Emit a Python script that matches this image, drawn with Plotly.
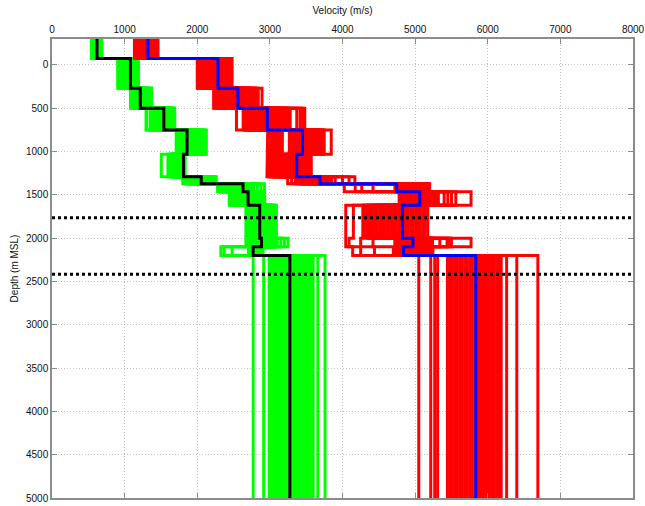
import plotly.graph_objects as go

# Layer tops (m MSL); the last layer runs down to MAX_DEPTH
LAYER_TOPS = [-300, -75, 270, 500, 750, 1030, 1290, 1370, 1465, 1620, 2000, 2100, 2200]
MAX_DEPTH = 5000

# Marker horizons (dotted lines)
MARKER_DEPTHS = [1765, 2415]

# Median profiles, one value per layer
VS_MEDIAN = [620, 1080, 1215, 1540, 1860, 1810, 2055, 2630, 2700, 2860, 2885, 2770, 3275]
VP_MEDIAN = [1320, 2285, 2560, 2965, 3450, 3370, 3690, 4745, 5065, 4825, 4970, 4840, 5835]

# Shear-wave velocity ensemble, one list per layer (profile i uses entry i)
VS_L0 = [542, 548, 555, 561, 567, 574, 580, 586, 591, 597, 603, 608, 613, 618, 623,
         628, 633, 638, 642, 647, 652, 656, 661, 665, 669, 673, 677, 680, 683, 686]
VS_L1 = [905, 913, 940, 954, 967, 979, 991, 1002, 1013, 1024, 1035, 1045, 1055, 1064, 1073,
         1082, 1091, 1100, 1108, 1116, 1124, 1132, 1140, 1148, 1156, 1163, 1170, 1177, 1184, 1190]
VS_L2 = [1080, 1093, 1106, 1118, 1130, 1141, 1152, 1162, 1172, 1181, 1190, 1199, 1207, 1215, 1223,
         1231, 1240, 1249, 1258, 1267, 1277, 1287, 1297, 1307, 1318, 1329, 1340, 1350, 1360, 1370]
VS_L3 = [1295, 1302, 1352, 1368, 1384, 1399, 1414, 1429, 1443, 1457, 1471, 1485, 1498, 1511, 1524,
         1537, 1549, 1561, 1573, 1585, 1597, 1609, 1620, 1631, 1642, 1653, 1663, 1672, 1681, 1690]
VS_L4 = [1710, 1725, 1740, 1755, 1770, 1784, 1798, 1812, 1826, 1840, 1853, 1866, 1879, 1892, 1905,
         1918, 1932, 1946, 1960, 1974, 1988, 2002, 2016, 2030, 2045, 2060, 2075, 2090, 2108, 2125]
VS_L5 = [1505, 1596, 1625, 1637, 1648, 1659, 1670, 1680, 1690, 1700, 1710, 1719, 1728, 1737, 1746,
         1754, 1762, 1770, 1777, 1784, 1791, 1797, 1803, 1808, 1813, 1817, 1821, 1825, 1828, 1832]
VS_L6 = [1800, 1818, 1836, 1853, 1869, 1885, 1901, 1917, 1932, 1947, 1962, 1977, 1992, 2007, 2022,
         2038, 2054, 2070, 2086, 2102, 2118, 2134, 2150, 2166, 2182, 2198, 2214, 2230, 2246, 2262]
VS_L7 = [2280, 2302, 2324, 2346, 2368, 2390, 2411, 2432, 2453, 2474, 2495, 2515, 2535, 2555, 2575,
         2594, 2613, 2632, 2650, 2668, 2686, 2703, 2720, 2736, 2751, 2765, 2779, 2828, 2878, 2925]
VS_L8 = [2440, 2462, 2484, 2506, 2528, 2549, 2569, 2589, 2609, 2628, 2647, 2665, 2683, 2701, 2719,
         2737, 2754, 2771, 2788, 2805, 2821, 2837, 2853, 2868, 2882, 2895, 2906, 2916, 2925, 2932]
VS_L9 = [2670, 2686, 2702, 2718, 2734, 2749, 2764, 2779, 2794, 2809, 2824, 2838, 2852, 2866, 2880,
         2894, 2908, 2922, 2936, 2950, 2964, 2978, 2992, 3006, 3020, 3034, 3048, 3061, 3075, 3090]
VS_L10 = [2670, 2688, 2706, 2724, 2742, 2760, 2777, 2794, 2811, 2828, 2845, 2861, 2877, 2893, 2909,
          2925, 2941, 2957, 2973, 2989, 3005, 3021, 3037, 3053, 3069, 3085, 3102, 3150, 3200, 3250]
VS_L11 = [2325, 2368, 2480, 2705, 2714, 2723, 2732, 2741, 2750, 2759, 2768, 2776, 2784, 2792, 2800,
          2808, 2816, 2824, 2832, 2840, 2848, 2856, 2864, 2871, 2878, 2885, 2891, 2896, 2901, 2905]
VS_L12 = [2770, 2915, 2990, 3014, 3038, 3062, 3086, 3110, 3134, 3158, 3182, 3206, 3230, 3254, 3278,
          3302, 3326, 3350, 3374, 3398, 3422, 3446, 3470, 3494, 3518, 3542, 3567, 3595, 3660, 3760]

# Compressional-wave velocity ensemble, one list per layer
VP_L0 = [1135, 1147, 1158, 1169, 1180, 1191, 1202, 1213, 1224, 1235, 1246, 1257, 1268, 1279, 1290,
         1300, 1310, 1320, 1331, 1342, 1353, 1364, 1375, 1386, 1397, 1408, 1420, 1432, 1446, 1460]
VP_L1 = [2000, 2018, 2036, 2054, 2071, 2088, 2105, 2122, 2138, 2154, 2170, 2186, 2202, 2218, 2234,
         2250, 2266, 2282, 2298, 2314, 2330, 2346, 2362, 2378, 2394, 2410, 2426, 2442, 2460, 2480]
VP_L2 = [2225, 2247, 2269, 2291, 2313, 2335, 2357, 2379, 2401, 2423, 2445, 2467, 2489, 2511, 2533,
         2555, 2577, 2599, 2621, 2643, 2665, 2687, 2709, 2731, 2753, 2775, 2797, 2819, 2840, 2892]
VP_L3 = [2540, 2632, 2659, 2686, 2713, 2740, 2767, 2794, 2821, 2848, 2875, 2902, 2929, 2956, 2983,
         3010, 3037, 3064, 3091, 3118, 3145, 3172, 3199, 3226, 3253, 3280, 3370, 3415, 3450, 3480]
VP_L4 = [2970, 2996, 3022, 3048, 3074, 3100, 3124, 3148, 3172, 3268, 3294, 3320, 3346, 3372, 3398,
         3424, 3450, 3476, 3502, 3528, 3554, 3580, 3606, 3632, 3658, 3684, 3710, 3730, 3748, 3845]
VP_L5 = [2960, 2981, 3002, 3023, 3044, 3065, 3086, 3107, 3128, 3149, 3170, 3191, 3212, 3233, 3254,
         3275, 3296, 3317, 3338, 3359, 3380, 3401, 3422, 3443, 3464, 3485, 3506, 3527, 3548, 3570]
VP_L6 = [3245, 3300, 3350, 3375, 3400, 3425, 3450, 3475, 3500, 3525, 3550, 3575, 3600, 3622, 3644,
         3666, 3688, 3710, 3730, 3750, 3770, 3790, 3805, 3820, 3835, 3850, 3900, 4000, 4090, 4170]
VP_L7 = [4025, 4175, 4265, 4420, 4722, 4742, 4762, 4782, 4802, 4822, 4842, 4862, 4882, 4902, 4922,
         4942, 4962, 4982, 5002, 5022, 5042, 5062, 5082, 5102, 5122, 5142, 5160, 5176, 5190, 5200]
VP_L8 = [4780, 4792, 4805, 4817, 4830, 4855, 4880, 4905, 4930, 4955, 4980, 5005, 5030, 5055, 5080,
         5105, 5130, 5155, 5180, 5205, 5230, 5255, 5280, 5300, 5320, 5400, 5450, 5500, 5560, 5770]
VP_L9 = [4045, 4150, 4280, 4313, 4346, 4379, 4412, 4445, 4478, 4511, 4544, 4577, 4610, 4643, 4676,
         4709, 4742, 4775, 4808, 4841, 4874, 4907, 4940, 4973, 5006, 5039, 5072, 5105, 5140, 5175]
VP_L10 = [4045, 4090, 4250, 4420, 4720, 4748, 4776, 4804, 4832, 4860, 4888, 4916, 4944, 4972, 5000,
          5028, 5056, 5084, 5112, 5140, 5168, 5196, 5220, 5230, 5240, 5340, 5440, 5470, 5500, 5770]
VP_L11 = [4140, 4250, 4440, 4700, 4722, 4744, 4766, 4788, 4810, 4832, 4854, 4876, 4898, 4920, 4942,
          4964, 4986, 5008, 5030, 5052, 5074, 5096, 5118, 5140, 5162, 5184, 5205, 5222, 5235, 5245]
VP_L12 = [5050, 5215, 5270, 5310, 5445, 5479, 5513, 5547, 5581, 5615, 5649, 5683, 5717, 5751, 5785,
          5819, 5853, 5887, 5921, 5955, 5989, 6023, 6057, 6091, 6125, 6159, 6185, 6260, 6400, 6690]

VS_LAYERS = [VS_L0, VS_L1, VS_L2, VS_L3, VS_L4, VS_L5, VS_L6,
             VS_L7, VS_L8, VS_L9, VS_L10, VS_L11, VS_L12]
VP_LAYERS = [VP_L0, VP_L1, VP_L2, VP_L3, VP_L4, VP_L5, VP_L6,
             VP_L7, VP_L8, VP_L9, VP_L10, VP_L11, VP_L12]

FONT = "Liberation Sans, Arial, Helvetica, sans-serif"


def staircase(vels):
    """Turn per-layer velocities into a stepped (velocity, depth) polyline."""
    xs, ys = [], []
    bottoms = LAYER_TOPS[1:] + [MAX_DEPTH]
    for v, top, bot in zip(vels, LAYER_TOPS, bottoms):
        xs += [v, v]
        ys += [top, bot]
    return xs, ys


def add_profile(fig, vels, color, width=3):
    xs, ys = staircase(vels)
    fig.add_trace(go.Scatter(x=xs, y=ys, mode="lines",
                             line=dict(color=color, width=width),
                             hoverinfo="skip", showlegend=False))


fig = go.Figure()

n_profiles = len(VS_L0)
for i in range(n_profiles):
    add_profile(fig, [layer[i] for layer in VS_LAYERS], "#00ff00")
for i in range(n_profiles):
    add_profile(fig, [layer[i] for layer in VP_LAYERS], "#ff0000")

add_profile(fig, VS_MEDIAN, "#000000", 3)
add_profile(fig, VP_MEDIAN, "#0000ff", 3)

for d in MARKER_DEPTHS:
    fig.add_trace(go.Scatter(x=[0, 8000], y=[d, d], mode="lines",
                             line=dict(color="#000000", width=3, dash="dot"),
                             hoverinfo="skip", showlegend=False))

axis_common = dict(
    automargin=False,
    showline=True, linecolor="#8c8c8c", linewidth=1.5, mirror="ticks",
    ticks="inside", ticklen=5, tickcolor="#8c8c8c", tickwidth=1,
    showgrid=True, gridcolor="#c4c4c4", griddash="1px,2px", gridwidth=1,
    zeroline=False,
    tickfont=dict(family=FONT, size=10, color="#111111"),
)

fig.update_layout(
    width=645, height=506, autosize=False,
    margin=dict(l=52, r=12, t=39, b=8, pad=0, autoexpand=False),
    paper_bgcolor="white", plot_bgcolor="white",
    font=dict(family=FONT, size=10, color="#111111"),
    xaxis=dict(range=[0, 8000], dtick=1000, side="top",
               title=dict(text="Velocity (m/s)", font=dict(family=FONT, size=10), standoff=8),
               **axis_common),
    yaxis=dict(range=[MAX_DEPTH, -300], tickvals=list(range(0, 5001, 500)),
               title=dict(text="Depth (m MSL)", font=dict(family=FONT, size=10), standoff=6),
               **axis_common),
)

fig.write_html("out.html", config={"displayModeBar": False})
